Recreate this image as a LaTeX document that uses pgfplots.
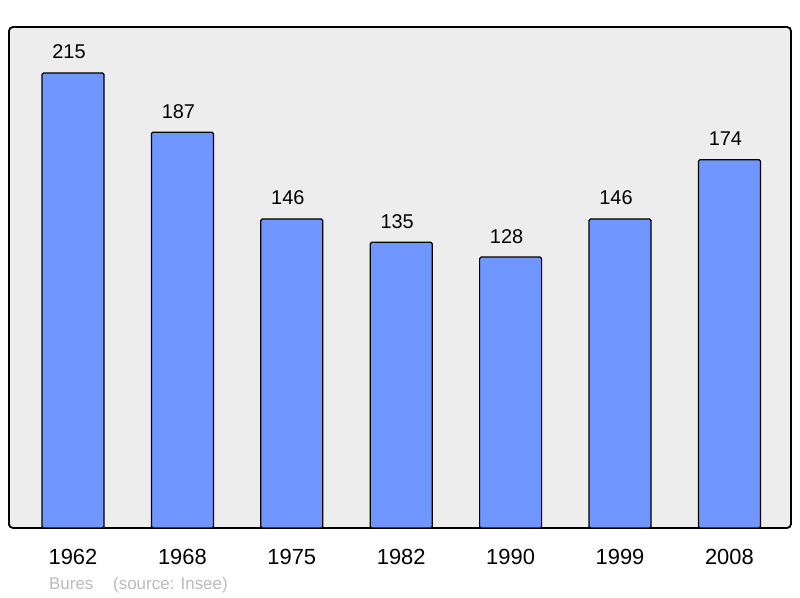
\documentclass[border=0pt]{standalone}
\usepackage{pgfplots}
\pgfplotsset{compat=1.18}
\usepackage{fontspec}
\setmainfont{Liberation Sans}
\definecolor{barblue}{RGB}{112,150,255}
\definecolor{bggray}{RGB}{237,237,237}
\definecolor{footgray}{RGB}{187,187,187}
\begin{document}
\begin{tikzpicture}[x=1bp,y=1bp]
\path[use as bounding box] (0,0) rectangle (800,598);
\begin{axis}[
	at={(9bp,70bp)}, anchor=south west,
	scale only axis,
	width=782bp, height=501bp,
	xmin=-0.585, xmax=6.563,
	ymin=0, ymax=236.7,
	ybar, bar width=62bp,
	axis background/.style={fill=bggray},
	axis line style={line width=1.8bp, rounded corners=4bp},
	xtick=data,
	xticklabels={1962,1968,1975,1982,1990,1999,2008},
	ytick=\empty,
	major tick length=0pt,
	xticklabel style={font=\fontsize{22}{25}\selectfont, anchor=base, yshift=-37bp},
	nodes near coords,
	every node near coord/.append style={font=\fontsize{20}{23}\selectfont, anchor=base, yshift=14bp, xshift=-4bp, black},
	/pgf/number format/assume math mode=true,
]
	\addplot[fill=barblue, draw=black, line width=1.2bp, rounded corners=1.5bp] coordinates {
		(0,215) (1,187) (2,146) (3,135) (4,128) (5,146) (6,174)
	};
\end{axis}
\node[anchor=base west, text=footgray, font=\fontsize{17}{20}\selectfont, inner sep=0] at (49,8) {Bures};
\node[anchor=base west, text=footgray, font=\fontsize{17}{20}\selectfont, inner sep=0] at (113,8) {(source: Insee)};
\end{tikzpicture}
\end{document}
